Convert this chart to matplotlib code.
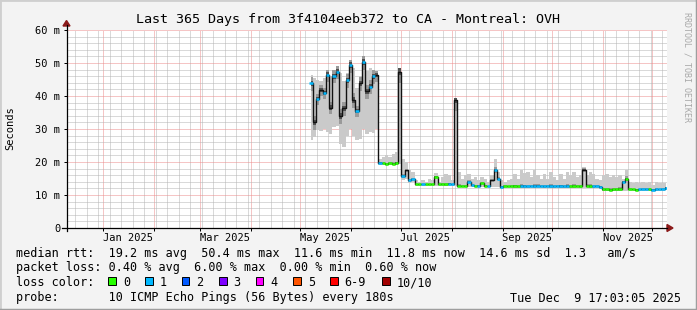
import matplotlib
matplotlib.use("Agg")
import matplotlib.pyplot as plt
import matplotlib.dates as mdates
from matplotlib.ticker import MultipleLocator, NullFormatter
from matplotlib.patches import Polygon, Rectangle
from matplotlib.lines import Line2D
import numpy as np
from datetime import datetime, timedelta

# ---- data ----
time_start = datetime(2024, 12, 9, 17, 3, 5)
time_end = datetime(2025, 12, 9, 17, 3, 5)
data_start = datetime(2025, 5, 7, 12)   # one sample every 2 days from here
step_days = 2

median_ms = [
    43.8, 32.0, 39.0, 41.8, 41.0, 46.4, 36.5, 46.0, 47.4, 34.0,
    36.3, 44.8, 49.4, 38.8, 35.4, 43.8, 50.4, 41.4, 42.8, 46.0,
    46.4, 19.8, 19.6, 19.4, 19.6, 19.5, 19.7, 47.4, 15.8, 17.5,
    14.5, 14.8, 13.2, 13.2, 13.3, 13.2, 13.2, 13.3, 15.5, 13.2,
    13.3, 13.2, 13.4, 13.2, 38.8, 12.8, 12.7, 12.7, 14.0, 13.0,
    12.7, 12.8, 13.6, 12.8, 12.7, 14.5, 17.6, 15.0, 12.5, 12.7,
    12.6, 12.7, 12.7, 12.6, 12.7, 12.7, 12.6, 12.7, 12.7, 12.8,
    12.7, 12.6, 12.7, 12.7, 12.6, 12.7, 12.7, 12.6, 12.7, 12.7,
    12.8, 12.7, 12.7, 17.6, 12.8, 12.7, 12.6, 12.7, 12.5, 11.7,
    11.7, 11.6, 11.7, 11.7, 11.8, 14.0, 15.0, 11.7, 11.7, 11.6,
    11.7, 11.7, 11.8, 11.7, 11.6, 11.7, 11.7, 11.8, 12.2,
]

smoke_lo_ms = [
    26.7, 27.5, 29.7, 29.5, 30.0, 29.0, 28.5, 30.5, 31.0, 25.5,
    24.6, 28.0, 30.0, 28.0, 26.7, 27.0, 30.0, 28.5, 29.0, 28.7,
    30.0, 19.0, 19.0, 19.0, 19.0, 19.0, 19.0, 19.3, 14.5, 14.8,
    13.6, 13.8, 12.8, 12.8, 12.8, 12.8, 12.8, 12.8, 12.8, 12.8,
    12.8, 12.8, 12.8, 12.8, 12.7, 12.3, 12.3, 12.3, 12.3, 12.3,
    12.3, 12.3, 12.3, 12.3, 12.3, 12.3, 12.3, 12.3, 12.0, 12.0,
    12.0, 12.0, 12.0, 12.0, 12.0, 12.0, 12.0, 12.0, 12.0, 12.0,
    12.0, 12.0, 12.0, 12.0, 12.0, 12.0, 12.0, 12.0, 12.0, 12.0,
    12.0, 12.0, 12.0, 12.0, 12.0, 12.0, 12.0, 12.0, 11.9, 11.2,
    11.2, 11.2, 11.2, 11.2, 11.2, 11.2, 11.2, 11.2, 11.2, 11.2,
    11.2, 11.2, 11.2, 11.2, 11.2, 11.2, 11.2, 11.2, 11.6,
]

smoke_hi_ms = [
    46.5, 45.5, 45.0, 44.5, 45.5, 48.0, 46.0, 48.0, 49.0, 47.0,
    44.5, 47.0, 51.0, 48.5, 42.5, 46.0, 52.0, 47.5, 48.5, 48.0,
    47.5, 21.0, 21.5, 22.0, 21.5, 22.5, 23.0, 48.5, 21.0, 20.0,
    17.5, 17.0, 14.5, 14.0, 14.5, 14.0, 15.0, 14.5, 16.6, 14.0,
    15.5, 16.5, 16.0, 14.5, 39.5, 17.0, 15.0, 16.0, 16.5, 15.0,
    15.5, 14.5, 15.5, 15.0, 14.0, 16.0, 21.0, 17.0, 14.5, 14.0,
    14.5, 15.0, 16.5, 15.0, 17.6, 16.6, 17.0, 15.5, 17.6, 16.0,
    15.0, 16.5, 15.0, 17.0, 15.5, 14.5, 16.5, 15.0, 17.0, 16.0,
    17.0, 15.5, 16.0, 18.5, 16.0, 17.0, 16.5, 15.0, 14.5, 16.0,
    16.5, 15.5, 16.0, 15.5, 16.0, 15.0, 17.6, 14.0, 13.5, 14.0,
    13.5, 14.0, 13.5, 14.0, 13.0, 14.0, 13.5, 13.5, 13.5,
]

# loss colour bucket per sample (-1: no coloured median drawn)
loss_bucket = [
    1, -1, 1, -1, 1, 1, -1, 1, 1, -1,
    -1, 1, 1, -1, 1, -1, 1, -1, 1, 1,
    -1, 1, 0, 0, 0, 0, 0, -1, 1, -1,
    1, 1, 0, 0, 1, 0, 0, 0, 0, 0,
    0, 0, 1, 1, -1, 0, 0, 0, 1, 1,
    0, 1, 0, 0, 1, -1, 1, 1, 1, 0,
    0, 0, 0, 0, 1, 1, 1, 1, 1, 1,
    1, 1, 1, 1, 1, 1, 1, 1, 1, 0,
    0, 0, 0, -1, 0, 0, 1, 1, 1, 0,
    0, 0, 0, 0, 0, 1, 0, 0, 0, 0,
    1, 1, 1, 0, 1, 1, 1, 1, 1,
]

loss_labels = ["0", "1", "2", "3", "4", "5", "6-9", "10/10"]
loss_colors = ["#26ff00", "#00b8ff", "#0059ff", "#7e00ff",
               "#ff00ff", "#ff5500", "#ff0000", "#a10000"]

y_ticks = [0, 10, 20, 30, 40, 50, 60]
y_ticklabels = ["0", "10 m", "20 m", "30 m", "40 m", "50 m", "60 m"]
x_labels = ["Jan 2025", "Mar 2025", "May 2025", "Jul 2025", "Sep 2025", "Nov 2025"]
x_label_dates = [datetime(2025, m, 16) for m in (1, 3, 5, 7, 9, 11)]

title = "Last 365 Days from 3f4104eeb372 to CA - Montreal: OVH"
legend_rtt = "median rtt:  19.2 ms avg  50.4 ms max  11.6 ms min  11.8 ms now  14.6 ms sd  1.3   am/s"
legend_loss = "packet loss: 0.40 % avg  6.00 % max  0.00 % min  0.60 % now"
legend_probe = "probe:       10 ICMP Echo Pings (56 Bytes) every 180s"
stamp = "Tue Dec  9 17:03:05 2025"

# ---- figure ----
W, H = 697, 310
plt.rcParams["font.family"] = "DejaVu Sans Mono"


def fx(x):
    return x / W


def fy(y):
    return 1 - y / H


fig = plt.figure(figsize=(W / 100, H / 100), dpi=100, facecolor="#f3f3f3")
ax = fig.add_axes([fx(66.5), fy(228), 600 / W, 198 / H])
ax.set_facecolor("white")

dates = [data_start + timedelta(days=step_days * i) for i in range(len(median_ms))]
med = np.array(median_ms)
lo = np.array(smoke_lo_ms)
hi = np.array(smoke_hi_ms)
spread = hi - lo

# smoke: light outer band, darker layers close to the median
ax.fill_between(dates, lo, hi, step="mid", color="#cacaca", lw=0)
ax.fill_between(dates, np.maximum(lo, med - 0.12 * spread), np.minimum(hi, med + 0.1 * spread),
                step="mid", color="#9a9a9a", lw=0)
ax.fill_between(dates, np.maximum(lo, med - 0.04 * spread), np.minimum(hi, med + 0.04 * spread),
                step="mid", color="#505050", lw=0)
ax.plot(dates, med, drawstyle="steps-mid", color="#111111", lw=1.0)

half = timedelta(days=step_days / 2)
for b, col in enumerate(loss_colors):
    idx = [i for i, l in enumerate(loss_bucket) if l == b]
    if idx:
        ax.hlines([median_ms[i] for i in idx], [dates[i] - half for i in idx],
                  [dates[i] + half for i in idx], colors=col, lw=1.8)

ax.set_xlim(time_start, time_end)
ax.set_ylim(0, 60)
ax.xaxis.set_major_locator(mdates.MonthLocator())
ax.xaxis.set_minor_locator(mdates.WeekdayLocator(byweekday=mdates.SU))
ax.xaxis.set_major_formatter(NullFormatter())
ax.yaxis.set_minor_locator(MultipleLocator(2))
ax.set_yticks(y_ticks, y_ticklabels)

ax.set_axisbelow(True)
ax.grid(which="minor", color="#b4b4b4", lw=0.72, ls=(0, (1, 1)))
ax.grid(which="major", color="#ec8c8c", lw=0.72, ls=(0, (1, 1)))
for s in ax.spines.values():
    s.set_visible(False)
ax.tick_params(which="major", length=2.2, width=0.72, pad=2.2, labelsize=7.5)
ax.tick_params(which="minor", length=0)

for d, lab in zip(x_label_dates, x_labels):
    ax.text(d, -10 / 198, lab, transform=ax.get_xaxis_transform(),
            ha="center", va="center", fontsize=7.5)

# axes lines and arrows
arrow_col = "#8b1a1a"
fig.add_artist(Line2D([fx(62), fx(667)], [fy(228), fy(228)], color="black", lw=0.9))
fig.add_artist(Line2D([fx(66.5), fx(66.5)], [fy(231), fy(25)], color="black", lw=0.9))
fig.add_artist(Polygon([(fx(667), fy(224.5)), (fx(673), fy(228)), (fx(667), fy(231.5))],
                       closed=True, color=arrow_col, transform=fig.transFigure))
fig.add_artist(Polygon([(fx(63), fy(26)), (fx(66.5), fy(20.5)), (fx(70), fy(26))],
                       closed=True, color=arrow_col, transform=fig.transFigure))

# texts
fig.text(fx(348.5), fy(19), title, ha="center", va="center", fontsize=9.6)
fig.text(fx(10), fy(128), "Seconds", rotation=90, ha="center", va="center", fontsize=7.5)
fig.text(fx(687), fy(12), "RRDTOOL / TOBI OETIKER", rotation=270, ha="center", va="top",
         fontsize=6, color="#a8a8a8")

fig.text(fx(16), fy(253), legend_rtt, ha="left", va="center", fontsize=8.5)
fig.text(fx(16), fy(268), legend_loss, ha="left", va="center", fontsize=8.5)
fig.text(fx(16), fy(283), "loss color:", ha="left", va="center", fontsize=8.5)
box_x = [108.3, 145, 181.7, 219, 255.7, 293.3, 330, 382.3]
for bx, col, lab in zip(box_x, loss_colors, loss_labels):
    fig.add_artist(Rectangle((fx(bx), fy(284.7)), 7.5 / W, 7.5 / H, facecolor=col,
                             edgecolor="black", lw=0.7, transform=fig.transFigure))
    fig.text(fx(bx + 14.5), fy(283), lab, ha="left", va="center", fontsize=8.5)
fig.text(fx(16), fy(298), legend_probe, ha="left", va="center", fontsize=8.5)
fig.text(fx(681), fy(298), stamp, ha="right", va="center", fontsize=8.5)

# 3d-ish frame
fig.add_artist(Line2D([0, 1], [1, 1], color="#cfcfcf", lw=2, transform=fig.transFigure))
fig.add_artist(Line2D([0, 0], [0, 1], color="#cfcfcf", lw=2, transform=fig.transFigure))
fig.add_artist(Line2D([0, 1], [0, 0], color="#9e9e9e", lw=2.5, transform=fig.transFigure))
fig.add_artist(Line2D([1, 1], [0, 1], color="#9e9e9e", lw=2.5, transform=fig.transFigure))

fig.savefig("out.png", dpi=100, facecolor=fig.get_facecolor())
